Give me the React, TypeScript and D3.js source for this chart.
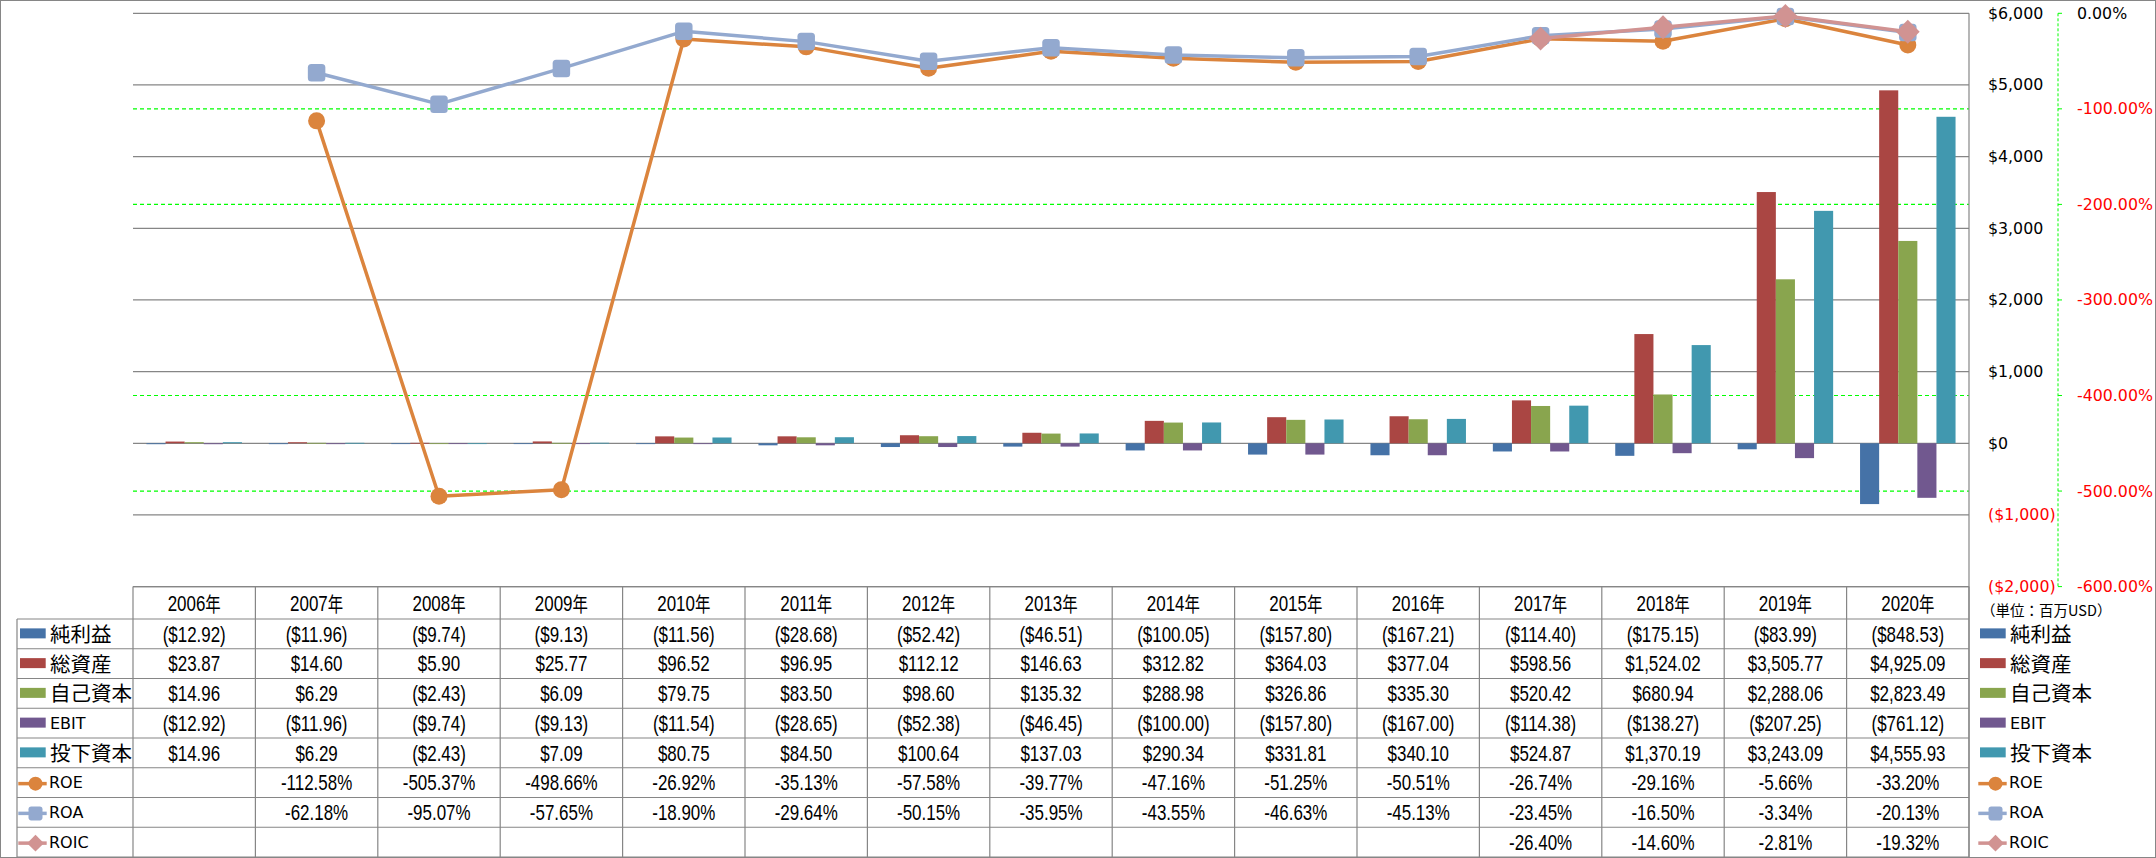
import React, { useEffect } from "react";
import * as d3 from "d3";

const years = ["2006年","2007年","2008年","2009年","2010年","2011年","2012年","2013年","2014年","2015年","2016年","2017年","2018年","2019年","2020年"];
const netIncome = [-12.92,-11.96,-9.74,-9.13,-11.56,-28.68,-52.42,-46.51,-100.05,-157.80,-167.21,-114.40,-175.15,-83.99,-848.53];
const totalAssets = [23.87,14.60,5.90,25.77,96.52,96.95,112.12,146.63,312.82,364.03,377.04,598.56,1524.02,3505.77,4925.09];
const equity = [14.96,6.29,-2.43,6.09,79.75,83.50,98.60,135.32,288.98,326.86,335.30,520.42,680.94,2288.06,2823.49];
const ebit = [-12.92,-11.96,-9.74,-9.13,-11.54,-28.65,-52.38,-46.45,-100.00,-157.80,-167.00,-114.38,-138.27,-207.25,-761.12];
const investedCapital = [14.96,6.29,-2.43,7.09,80.75,84.50,100.64,137.03,290.34,331.81,340.10,524.87,1370.19,3243.09,4555.93];
const roe: (number | null)[] = [null,-112.58,-505.37,-498.66,-26.92,-35.13,-57.58,-39.77,-47.16,-51.25,-50.51,-26.74,-29.16,-5.66,-33.20];
const roa: (number | null)[] = [null,-62.18,-95.07,-57.65,-18.90,-29.64,-50.15,-35.95,-43.55,-46.63,-45.13,-23.45,-16.50,-3.34,-20.13];
const roic: (number | null)[] = [null,null,null,null,null,null,null,null,null,null,null,-26.40,-14.60,-2.81,-19.32];
const moneyTicks = [6000,5000,4000,3000,2000,1000,0,-1000,-2000];
const pctTicks = [0,-100,-200,-300,-400,-500,-600];
const unitLabel = "（単位：百万USD）";

const barSeries = [
  { name: "純利益", values: netIncome, color: "#4572A7" },
  { name: "総資産", values: totalAssets, color: "#AA4643" },
  { name: "自己資本", values: equity, color: "#89A54E" },
  { name: "EBIT", values: ebit, color: "#71588F" },
  { name: "投下資本", values: investedCapital, color: "#4198AF" },
];
const lineSeries = [
  { name: "ROE", values: roe, color: "#DB843D", marker: "circle" },
  { name: "ROA", values: roa, color: "#93A9CF", marker: "square" },
  { name: "ROIC", values: roic, color: "#D19392", marker: "diamond" },
];

const W = 2156, H = 858;
const plotL = 133, plotR = 1969, plotT = 13.3, plotB = 586.6;
const headerB = 619, tableB = 857;
const rowH = (tableB - headerB) / 8;
const legL = 17;
const GRID = "#868686";
const tableFont = "'Liberation Sans', Arial, sans-serif";
const axisFont = "'DejaVu Sans', Verdana, sans-serif";
const cjkFont = "'Noto Sans CJK JP', 'Noto Sans CJK SC', sans-serif";

const x = d3.scaleBand<string>().domain(years).range([plotL, plotR]).paddingInner(0).paddingOuter(0);
const yM = d3.scaleLinear().domain([-2000, 6000]).range([plotB, plotT]);
const yP = d3.scaleLinear().domain([-600, 0]).range([plotB, plotT]);

const fmt2 = d3.format(",.2f");
const fmt0 = d3.format(",");
const money = (v: number) => (v < 0 ? `($${fmt2(-v)})` : `$${fmt2(v)}`);
const moneyAxis = (v: number) => (v < 0 ? `($${fmt0(-v)})` : `$${fmt0(v)}`);
const pct = (v: number | null) => (v == null ? "" : `${v.toFixed(2)}%`);

function Marker({ type, cx, cy, size, color }: { type: string; cx: number; cy: number; size: number; color: string }) {
  if (type === "circle") return <circle cx={cx} cy={cy} r={size / 2} fill={color} />;
  if (type === "square")
    return <rect x={cx - size / 2} y={cy - size / 2} width={size} height={size} rx={size * 0.2} fill={color} />;
  const h = size * 0.7;
  return <path d={`M${cx},${cy - h}L${cx + h},${cy}L${cx},${cy + h}L${cx - h},${cy}Z`} fill={color} />;
}

function hasCJK(s: string) {
  return /[\u3000-\u9fff]/.test(s);
}

function LegendText({ text, x: tx, cy }: { text: string; x: number; cy: number }) {
  const cjk = hasCJK(text);
  return (
    <text
      x={tx}
      y={cy - (cjk ? 1 : 0)}
      dominantBaseline="central"
      fontFamily={cjk ? cjkFont : axisFont}
      fontSize={cjk ? 20.5 : 16}
      fill="#000"
    >
      {text}
    </text>
  );
}

function LegendKey({ idx, x0, cy }: { idx: number; x0: number; cy: number }) {
  if (idx < 5) {
    const s = barSeries[idx];
    return (
      <g>
        <rect x={x0 + 3} y={cy - 5.5} width={25.7} height={10} fill={s.color} />
        <LegendText text={s.name} x={x0 + 33} cy={cy} />
      </g>
    );
  }
  const s = lineSeries[idx - 5];
  return (
    <g>
      <line x1={x0 + 1.3} x2={x0 + 29.7} y1={cy + 1} y2={cy + 1} stroke={s.color} strokeWidth={3.5} />
      <Marker type={s.marker} cx={x0 + 18.5} cy={cy + 1} size={s.marker === "diamond" ? 12 : 14} color={s.color} />
      <LegendText text={s.name} x={x0 + 32} cy={cy} />
    </g>
  );
}

function TableText({ cx, cy, children }: { cx: number; cy: number; children: React.ReactNode }) {
  return (
    <text
      transform={`translate(${cx},${cy}) scale(0.77,1)`}
      textAnchor="middle"
      dominantBaseline="central"
      fontFamily={tableFont}
      fontSize={22}
      fill="#000"
    >
      {children}
    </text>
  );
}

export default function App() {
  useEffect(() => {
    document.body.style.margin = "0";
  }, []);

  const bw = x.bandwidth();
  const barW = 19.1;
  const groupOff = (bw - barW * barSeries.length) / 2;
  const allRows: { key: number; cells: string[] }[] = [
    ...barSeries.map((s, i) => ({ key: i, cells: s.values.map(money) })),
    ...lineSeries.map((s, i) => ({ key: 5 + i, cells: s.values.map(pct) })),
  ];
  const moneyYs = moneyTicks.map((t) => yM(t));
  const pctGrid = pctTicks.filter((t) => moneyYs.every((my) => Math.abs(my - yP(t)) > 0.5));

  return (
    <svg width={W} height={H} style={{ position: "absolute", left: 0, top: 0, display: "block" }}>
      <rect x={0} y={0} width={W} height={H} fill="#fff" />
      <rect x={0.5} y={0.5} width={W - 1} height={H - 1} fill="none" stroke={GRID} strokeWidth={1} />

      {/* percent gridlines */}
      {pctGrid.map((t) => (
        <line key={"p" + t} x1={plotL} x2={plotR} y1={yP(t)} y2={yP(t)} stroke="#00FF00" strokeWidth={1.2} strokeDasharray="4,3" />
      ))}
      {/* money gridlines */}
      {moneyTicks.map((t) => (
        <line key={"g" + t} x1={plotL} x2={plotR} y1={yM(t)} y2={yM(t)} stroke={GRID} strokeWidth={1.2} />
      ))}
      <line x1={plotR} x2={plotR} y1={plotT} y2={tableB} stroke={GRID} strokeWidth={1.2} />

      {/* bars */}
      {barSeries.map((s, si) =>
        s.values.map((v, i) => {
          const x0 = (x(years[i]) as number) + groupOff + si * barW;
          const y0 = yM(0);
          const y1 = yM(v);
          return (
            <rect key={s.name + i} x={x0} y={Math.min(y0, y1)} width={barW} height={Math.max(Math.abs(y1 - y0), 0.8)} fill={s.color} />
          );
        })
      )}

      {/* lines */}
      {lineSeries.map((s) => {
        const gen = d3
          .line<number | null>()
          .defined((d) => d != null)
          .x((_, i) => (x(years[i]) as number) + bw / 2)
          .y((d) => yP(d as number));
        return (
          <g key={s.name}>
            <path d={gen(s.values) || ""} fill="none" stroke={s.color} strokeWidth={3.5} strokeLinejoin="round" />
            {s.values.map((v, i) =>
              v == null ? null : (
                <Marker
                  key={i}
                  type={s.marker}
                  cx={(x(years[i]) as number) + bw / 2}
                  cy={yP(v)}
                  size={s.marker === "diamond" ? 17 : s.marker === "square" ? 17.5 : 17}
                  color={s.color}
                />
              )
            )}
          </g>
        );
      })}

      {/* right money axis labels */}
      {moneyTicks.map((t) => (
        <text key={"ml" + t} x={1988} y={yM(t)} dominantBaseline="central" fontFamily={axisFont} fontSize={15.8} fill={t < 0 ? "#FF0000" : "#000"}>
          {moneyAxis(t)}
        </text>
      ))}
      {/* secondary percent axis */}
      <line x1={2058} x2={2058} y1={plotT} y2={plotB} stroke="#00FF00" strokeWidth={1} strokeDasharray="3,2" />
      {pctTicks.map((t) => (
        <line key={"pt" + t} x1={2058} x2={2062} y1={yP(t)} y2={yP(t)} stroke="#00FF00" strokeWidth={1} />
      ))}
      {pctTicks.map((t) => (
        <text key={"pl" + t} x={2077} y={yP(t)} dominantBaseline="central" fontFamily={axisFont} fontSize={15.8} fill={t < 0 ? "#FF0000" : "#000"}>
          {`${t.toFixed(2)}%`}
        </text>
      ))}

      {/* table lines */}
      <line x1={plotL} x2={plotR} y1={plotB} y2={plotB} stroke={GRID} strokeWidth={1.2} />
      {d3.range(0, 9).map((r) => (
        <line key={"tr" + r} x1={legL} x2={plotR} y1={headerB + r * rowH} y2={headerB + r * rowH} stroke={GRID} strokeWidth={1.2} />
      ))}
      {d3.range(0, 16).map((c) => (
        <line key={"tc" + c} x1={plotL + c * bw} x2={plotL + c * bw} y1={plotB} y2={tableB} stroke={GRID} strokeWidth={1.2} />
      ))}
      <line x1={legL} x2={legL} y1={headerB} y2={tableB} stroke={GRID} strokeWidth={1.2} />

      {/* header */}
      {years.map((yr) => (
        <TableText key={"h" + yr} cx={(x(yr) as number) + bw / 2} cy={(plotB + headerB) / 2}>
          {yr.replace("年", "")}
          <tspan fontFamily={cjkFont} fontSize={20}>年</tspan>
        </TableText>
      ))}

      {/* rows */}
      {allRows.map((row, r) => {
        const cy = headerB + rowH * (r + 0.5);
        return (
          <g key={"row" + r}>
            <LegendKey idx={row.key} x0={legL} cy={cy} />
            {row.cells.map((c, i) =>
              c ? (
                <TableText key={i} cx={(x(years[i]) as number) + bw / 2} cy={cy}>
                  {c}
                </TableText>
              ) : null
            )}
            <LegendKey idx={row.key} x0={1977} cy={cy} />
          </g>
        );
      })}

      <text x={1981} y={609.5} dominantBaseline="central" fontFamily={cjkFont} fontSize={14.5} fill="#000">
        {unitLabel}
      </text>
    </svg>
  );
}
